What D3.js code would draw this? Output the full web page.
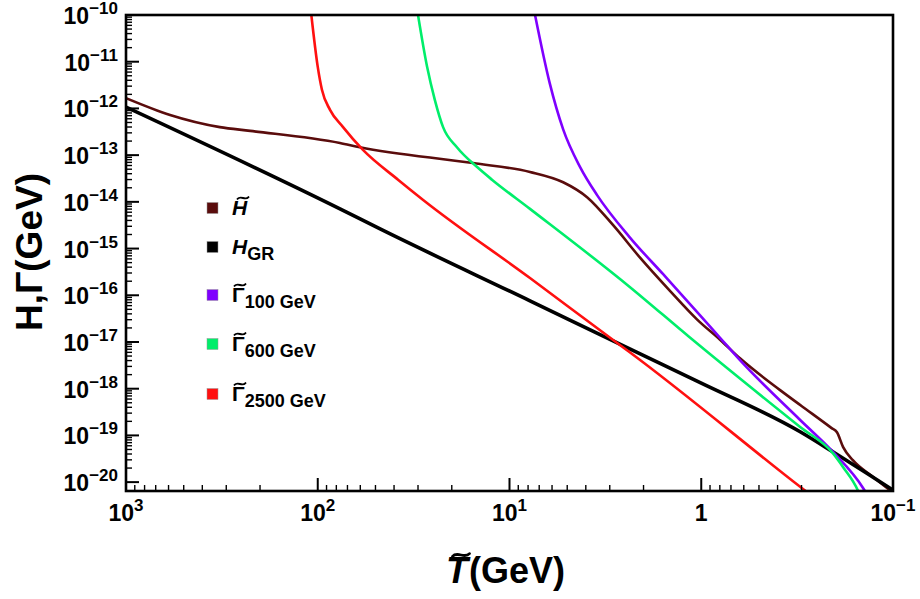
<html>
<head>
<meta charset="utf-8">
<script src="https://d3js.org/d3.v7.min.js"></script>
<style>
    body { margin: 0; background: #fff; }
    text { font-family: "Liberation Sans", Arial, sans-serif; font-weight: bold; fill: #000; }
</style>
</head>
<body>
<svg width="920" height="599"></svg>
<script>
// values: [T (GeV), rate (GeV)], T from high to low
var hTildeData = [[1000,1.66e-12],[589,7.24e-13],[324,3.98e-13],[225,3.31e-13],[76.6,1.82e-13],[60.3,1.48e-13],
    [15.5,6.76e-14],[7.82,4.37e-14],[5.25,2.63e-14],[3.94,1.26e-14],[2.88,3.16e-15],[2.08,6.31e-16],[1.46,1.26e-16],
    [1.05,3.02e-17],[0.798,1.12e-17],[0.628,4.47e-18],[0.388,9.33e-19],[0.30,4.27e-19],[0.209,1.43e-19],
    [0.196,1.17e-19],[0.182,5.62e-20],[0.162,2.95e-20],[0.127,1.29e-20],[0.104,6.76e-21]];
var hGRData = [[1000,1.07e-12],[76.6,7.08e-15],[47.3,2.63e-15],[7.82,7.59e-17],[2.36,7.08e-18],[1.0,1.32e-18],
    [0.305,1.20e-19],[0.206,4.47e-20],[0.137,1.55e-20],[0.1,6.76e-21]];
var gamma100Data = [[7.36,1e-10],[6.17,3.47e-12],[5.25,3.55e-13],[4.29,5.62e-14],[3.50,1.41e-14],[2.36,1.74e-15],
    [1.58,2.82e-16],[1.05,4.37e-17],[0.798,1.23e-17],[0.628,4.07e-18],[0.305,2.14e-19],[0.206,4.47e-20],
    [0.143,7.41e-21],[0.135,5.01e-21]];
var gamma600Data = [[30.0,1e-10],[26.9,7.76e-12],[24.5,1.51e-12],[22.2,3.98e-13],[18.8,1.48e-13],[14.8,5.62e-14],
    [12.3,2.95e-14],[7.82,7.08e-15],[2.36,1.51e-16],[1.15,1.26e-17],[0.305,1.51e-19],[0.206,4.17e-20],
    [0.182,2.09e-20],[0.152,6.46e-21],[0.145,3.98e-21]];
var gamma2500Data = [[108,1e-10],[100,7.76e-12],[95.1,2.51e-12],[86.3,9.33e-13],[73.8,3.98e-13],[58.1,1.29e-13],
    [38.0,2.95e-14],[28.2,1.10e-14],[7.82,2.34e-16],[2.88,1.10e-17],[2.36,6.03e-18],[0.305,7.94e-21],[0.251,4.27e-21]];

var xTickValues = [1000, 100, 10, 1, 0.1];
var xTickLabels = [["10", "3"], ["10", "2"], ["10", "1"], ["1", ""], ["10", "\u22121"]];
var yTickExponents = [-10, -11, -12, -13, -14, -15, -16, -17, -18, -19, -20];

var seriesNames = ["hTilde", "hGR", "gamma100", "gamma600", "gamma2500"];
var legendMain = ["H", "H", "\u0393", "\u0393", "\u0393"];
var legendSub = ["", "GR", "100 GeV", "600 GeV", "2500 GeV"];

var colors = {hTilde: "#5a0c0c", hGR: "#000000", gamma100: "#7f00ff", gamma600: "#00ee6a", gamma2500: "#ff1010"};
var widths = {hTilde: 2.6, hGR: 3.6, gamma100: 2.6, gamma600: 2.6, gamma2500: 2.6};
var seriesData = {hTilde: hTildeData, hGR: hGRData, gamma100: gamma100Data, gamma600: gamma600Data, gamma2500: gamma2500Data};

function draw() {
    var svg = d3.select("svg");
    var pl = 126, pr = 893, pt = 15, pb = 491;

    var x = d3.scaleLog().domain([1000, 0.1]).range([pl, pr]);
    var y = d3.scaleLog().domain([1e-10, Math.pow(10, -20.19)]).range([pt, pb]);

    // small drawn tilde, the fonts put combining marks in odd places
    function tilde(g, cx, cy, w, sw) {
        var h = w * 0.16, x0 = cx - w / 2;
        g.append("path")
            .attr("d", "M" + x0 + "," + (cy + h / 2) +
                " C" + (x0 + w * 0.3) + "," + (cy - h * 1.6) + " " + (x0 + w * 0.7) + "," + (cy + h * 1.6) +
                " " + (x0 + w) + "," + (cy - h / 2))
            .attr("fill", "none").attr("stroke", "#000").attr("stroke-width", sw).attr("stroke-linecap", "round");
    }

    svg.append("clipPath").attr("id", "plot-clip")
        .append("rect").attr("x", pl).attr("y", pt).attr("width", pr - pl).attr("height", pb - pt);

    var line = d3.line()
        .x(function(d) { return x(d[0]); })
        .y(function(d) { return y(d[1]); })
        .curve(d3.curveMonotoneX);

    var curves = svg.append("g").attr("clip-path", "url(#plot-clip)");
    seriesNames.forEach(function(name) {
        curves.append("path")
            .datum(seriesData[name])
            .attr("fill", "none")
            .attr("stroke", colors[name])
            .attr("stroke-width", widths[name])
            .attr("stroke-linejoin", "round")
            .attr("d", line);
    });

    // ticks, inward on left and bottom
    var ticks = svg.append("g").attr("stroke", "#000");
    yTickExponents.forEach(function(e) {
        var yy = y(Math.pow(10, e));
        ticks.append("line").attr("x1", pl).attr("x2", pl + 13).attr("y1", yy).attr("y2", yy).attr("stroke-width", 2);
        for (var k = 2; k <= 9; k++) {
            var v = k * Math.pow(10, e);
            if (v > 1e-10) continue;
            var ym = y(v);
            ticks.append("line").attr("x1", pl).attr("x2", pl + 6).attr("y1", ym).attr("y2", ym).attr("stroke-width", 1.4);
        }
    });
    xTickValues.forEach(function(t) {
        var xx = x(t);
        ticks.append("line").attr("x1", xx).attr("x2", xx).attr("y1", pb).attr("y2", pb - 13).attr("stroke-width", 2);
        for (var k = 2; k <= 9; k++) {
            var v = k * t;
            if (v >= 1000) continue;
            var xm = x(v);
            ticks.append("line").attr("x1", xm).attr("x2", xm).attr("y1", pb).attr("y2", pb - 6).attr("stroke-width", 1.4);
        }
    });

    svg.append("rect")
        .attr("x", pl).attr("y", pt).attr("width", pr - pl).attr("height", pb - pt)
        .attr("fill", "none").attr("stroke", "#000").attr("stroke-width", 2.6);

    // tick labels
    yTickExponents.forEach(function(e) {
        var t = svg.append("text")
            .attr("x", 118).attr("y", y(Math.pow(10, e)) + 9)
            .attr("text-anchor", "end")
            .style("font-size", "23px");
        t.append("tspan").text("10");
        t.append("tspan").attr("dy", -10).style("font-size", "17px").text("\u2212" + (-e));
    });
    xTickValues.forEach(function(v, i) {
        var t = svg.append("text")
            .attr("x", x(v)).attr("y", 521)
            .attr("text-anchor", "middle")
            .style("font-size", "23px");
        t.append("tspan").text(xTickLabels[i][0]);
        if (xTickLabels[i][1]) t.append("tspan").attr("dy", -10).style("font-size", "17px").text(xTickLabels[i][1]);
    });

    // axis titles
    svg.append("text")
        .attr("transform", "translate(42,252) rotate(-90)")
        .attr("text-anchor", "middle")
        .style("font-size", "37px")
        .text("H,\u0393(GeV)");

    var tT = svg.append("text").attr("x", 446).attr("y", 583)
        .style("font-size", "36px").style("font-style", "italic").text("T");
    var tw = tT.node().getComputedTextLength();
    svg.append("text").attr("x", 446 + tw + 1).attr("y", 583)
        .style("font-size", "36px").text("(GeV)");
    tilde(svg, 446 + tw / 2 + 4, 555, 17, 2.8);

    // legend
    var legend = svg.append("g");
    var legendY = [208, 247, 295, 344, 394];
    seriesNames.forEach(function(name, i) {
        var cy = legendY[i];
        legend.append("rect").attr("x", 207).attr("y", cy - 5.5).attr("width", 11).attr("height", 11)
            .attr("fill", colors[name]).attr("stroke", "#999").attr("stroke-width", 0.5);
        var t = legend.append("text").attr("x", 232).attr("y", cy + 7).style("font-size", "21px");
        t.append("tspan").style("font-style", name.indexOf("h") === 0 ? "italic" : "normal").text(legendMain[i]);
        if (legendSub[i]) t.append("tspan").attr("dy", 6).style("font-size", "18px").text(legendSub[i]);
        if (name !== "hGR") tilde(legend, name === "hTilde" ? 243 : 240, cy - 10, 11, 1.9);
    });
}

draw();
</script>
</body>
</html>
